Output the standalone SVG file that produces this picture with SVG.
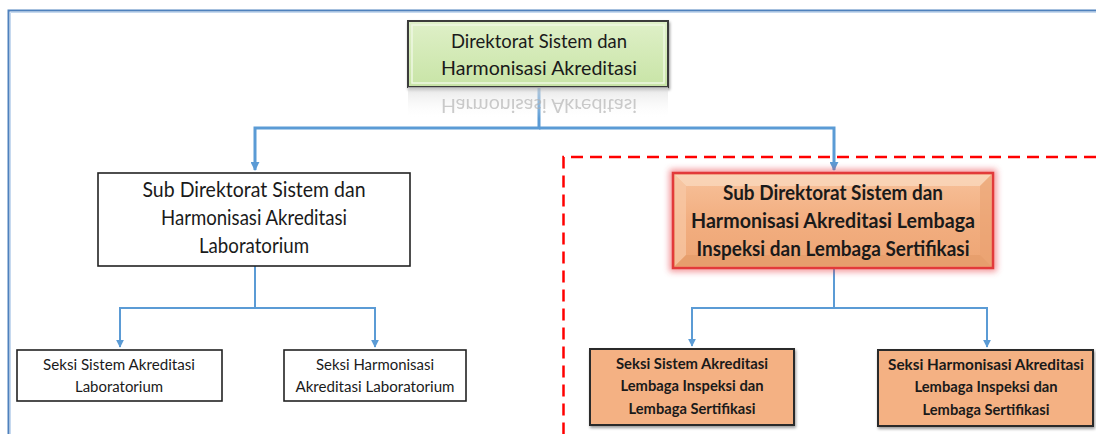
<svg xmlns="http://www.w3.org/2000/svg" width="1096" height="434" viewBox="0 0 1096 434">
<defs>
<style>
.t{font-family:Lato,"Open Sans","Liberation Sans",sans-serif;fill:#1a1a1a;text-anchor:middle}
.b{font-weight:bold}
.conn{fill:none;stroke:#5b9bd5;stroke-width:2}
.conn2{fill:none;stroke:#5b9bd5;stroke-width:3}
.plain{fill:#ffffff;stroke:#222;stroke-width:1.6}
.ob{fill:#f4b183;stroke:#2b2b2b;stroke-width:2}
</style>
<linearGradient id="green" x1="0" y1="0" x2="0" y2="1">
<stop offset="0" stop-color="#dff0c8"/><stop offset="1" stop-color="#c8e4a6"/>
</linearGradient>
<linearGradient id="refl" x1="0" y1="0" x2="0" y2="1">
<stop offset="0" stop-color="#d9d9d9" stop-opacity="0.7"/><stop offset="1" stop-color="#ffffff" stop-opacity="0"/>
</linearGradient>
<linearGradient id="orange" x1="0" y1="0" x2="0" y2="1">
<stop offset="0" stop-color="#f7c29b"/><stop offset="0.5" stop-color="#f2ae80"/><stop offset="1" stop-color="#eda574"/>
</linearGradient>
<filter id="glow" x="-10%" y="-20%" width="120%" height="140%">
<feGaussianBlur stdDeviation="3"/>
</filter>
<filter id="sh" x="-5%" y="-10%" width="115%" height="130%">
<feGaussianBlur in="SourceAlpha" stdDeviation="1.5"/><feOffset dx="1" dy="2"/>
<feComponentTransfer><feFuncA type="linear" slope="0.4"/></feComponentTransfer>
<feMerge><feMergeNode/><feMergeNode in="SourceGraphic"/></feMerge>
</filter>
<marker id="arr" viewBox="0 0 10 10" refX="9" refY="5" markerWidth="4" markerHeight="4" orient="auto" markerUnits="strokeWidth">
<path d="M0,0 L10,5 L0,10 z" fill="#5b9bd5"/>
</marker>
<marker id="arr2" viewBox="0 0 10 10" refX="9" refY="5" markerWidth="3" markerHeight="3" orient="auto" markerUnits="strokeWidth">
<path d="M0,0 L10,5 L0,10 z" fill="#5b9bd5"/>
</marker>
</defs>
<rect width="1096" height="434" fill="#ffffff"/>

<g id="frame">
<path d="M8.5,434 V10.5 H1096" fill="none" stroke="#4f81bd" stroke-width="2"/>
<path d="M10.5,434 V12.5 H1096" fill="none" stroke="#c6d9ef" stroke-width="1"/>
</g>

<g id="dashed-region">
<path d="M1096,157 H563.5 V434" fill="none" stroke="#ff0000" stroke-width="2.5" stroke-dasharray="12 7"/>
</g>

<g id="connectors">
<path class="conn2" d="M539,86 V128 H255 V170" marker-end="url(#arr2)"/>
<path class="conn2" d="M539,128 H834 V170" marker-end="url(#arr2)"/>
<path class="conn" d="M255,266 V308 H120 V347" marker-end="url(#arr)"/>
<path class="conn" d="M255,308 H375 V347" marker-end="url(#arr)"/>
<path class="conn" d="M834,268 V308 H692 V346" marker-end="url(#arr)"/>
<path class="conn" d="M834,308 H987 V347" marker-end="url(#arr)"/>
</g>

<g id="direktorat">
<rect x="408" y="21" width="260" height="66" fill="url(#green)" stroke="#3b3b3b" stroke-width="2" filter="url(#sh)"/>
<rect x="412" y="25" width="252" height="58" fill="none" stroke="#eef7e2" stroke-width="1.5"/>
<rect x="408" y="87" width="260" height="32" fill="url(#refl)"/>
<text class="t" x="539" y="48" font-size="20" textLength="176" lengthAdjust="spacingAndGlyphs">Direktorat Sistem dan</text>
<text class="t" x="539" y="75" font-size="20" textLength="196" lengthAdjust="spacingAndGlyphs">Harmonisasi Akreditasi</text>
<text class="t" x="539" y="75" font-size="20" textLength="196" lengthAdjust="spacingAndGlyphs" transform="translate(0,174) scale(1,-1)" style="fill:#b0b0b0" opacity="0.65">Harmonisasi Akreditasi</text>
</g>

<g id="subdit-lab">
<rect class="plain" x="98" y="173" width="312" height="93"/>
<text class="t" x="254" y="197" font-size="21" textLength="223" lengthAdjust="spacingAndGlyphs">Sub Direktorat Sistem dan</text>
<text class="t" x="254" y="225" font-size="21" textLength="186" lengthAdjust="spacingAndGlyphs">Harmonisasi Akreditasi</text>
<text class="t" x="254" y="253" font-size="21" textLength="110" lengthAdjust="spacingAndGlyphs">Laboratorium</text>
</g>

<g id="seksi-sistem-lab">
<rect class="plain" x="17" y="350" width="205" height="51"/>
<text class="t" x="119" y="370" font-size="14.5" textLength="152" lengthAdjust="spacingAndGlyphs">Seksi Sistem Akreditasi</text>
<text class="t" x="119" y="392" font-size="14.5" textLength="88" lengthAdjust="spacingAndGlyphs">Laboratorium</text>
</g>

<g id="seksi-harmonisasi-lab">
<rect class="plain" x="284" y="350" width="182" height="51"/>
<text class="t" x="375" y="370" font-size="14.5" textLength="118" lengthAdjust="spacingAndGlyphs">Seksi Harmonisasi</text>
<text class="t" x="375" y="392" font-size="14.5" textLength="159" lengthAdjust="spacingAndGlyphs">Akreditasi Laboratorium</text>
</g>

<g id="subdit-lembaga">
<rect x="673" y="173" width="320" height="95" fill="none" stroke="#e8303a" stroke-width="7" opacity="0.55" filter="url(#glow)"/>
<rect x="673" y="173" width="320" height="95" fill="url(#orange)" stroke="#e23a3a" stroke-width="2.5"/>
<path d="M675,175 H991 L980,186 H686 Z" fill="#fbdcc2" opacity="0.7"/>
<path d="M675,175 V266 L686,255 V186 Z" fill="#f8c9a6" opacity="0.7"/>
<path d="M991,175 V266 L980,255 V186 Z" fill="#e9a171" opacity="0.6"/>
<path d="M675,266 H991 L980,255 H686 Z" fill="#e39a68" opacity="0.6"/>
<text class="t b" x="833" y="200" font-size="20" textLength="220" lengthAdjust="spacingAndGlyphs">Sub Direktorat Sistem dan</text>
<text class="t b" x="833" y="228" font-size="20" textLength="284" lengthAdjust="spacingAndGlyphs">Harmonisasi Akreditasi Lembaga</text>
<text class="t b" x="833" y="256" font-size="20" textLength="273" lengthAdjust="spacingAndGlyphs">Inspeksi dan Lembaga Sertifikasi</text>
</g>

<g id="seksi-sistem-lembaga">
<rect class="ob" x="590" y="349" width="204" height="76" filter="url(#sh)"/>
<text class="t b" x="692" y="369" font-size="15" textLength="152" lengthAdjust="spacingAndGlyphs">Seksi Sistem Akreditasi</text>
<text class="t b" x="692" y="391" font-size="15" textLength="143" lengthAdjust="spacingAndGlyphs">Lembaga Inspeksi dan</text>
<text class="t b" x="692" y="414" font-size="15" textLength="127" lengthAdjust="spacingAndGlyphs">Lembaga Sertifikasi</text>
</g>

<g id="seksi-harmonisasi-lembaga">
<rect class="ob" x="878" y="350" width="215" height="76" filter="url(#sh)"/>
<text class="t b" x="986" y="370" font-size="15" textLength="196" lengthAdjust="spacingAndGlyphs">Seksi Harmonisasi Akreditasi</text>
<text class="t b" x="986" y="392" font-size="15" textLength="143" lengthAdjust="spacingAndGlyphs">Lembaga Inspeksi dan</text>
<text class="t b" x="986" y="415" font-size="15" textLength="127" lengthAdjust="spacingAndGlyphs">Lembaga Sertifikasi</text>
</g>
</svg>
